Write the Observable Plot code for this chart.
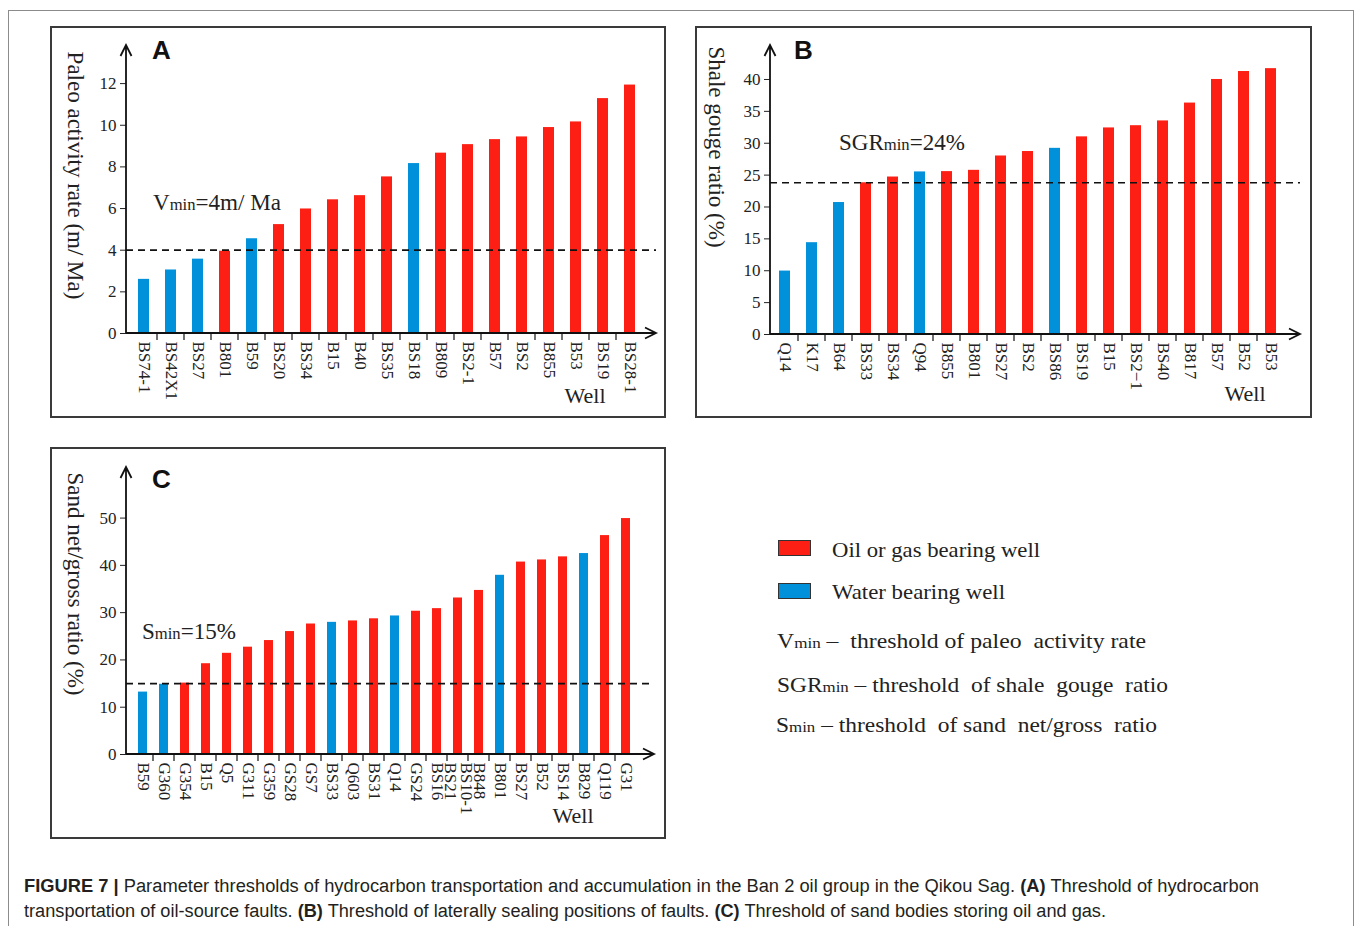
<!DOCTYPE html>
<html><head><meta charset="utf-8">
<script src="https://cdn.jsdelivr.net/npm/d3@7"></script>
<script src="https://cdn.jsdelivr.net/npm/@observablehq/plot@0.6"></script>
<style>
html,body{margin:0;padding:0;background:#fff;}
body{width:1356px;height:926px;position:relative;overflow:hidden;font-family:"Liberation Serif","Times New Roman",serif;color:#222;}
#outer{position:absolute;left:8px;top:10px;width:1346px;height:940px;border:1px solid #8c8c8c;box-sizing:border-box;}
.panel{position:absolute;border:2px solid #3a3a3a;box-sizing:border-box;background:#fff;}
.panel svg{position:absolute;left:0;top:0;}
.letter{position:absolute;font-family:"Liberation Sans",Arial,sans-serif;font-weight:bold;font-size:26px;line-height:26px;color:#111;}
.ann{position:absolute;font-size:21px;line-height:21px;white-space:pre;color:#222;}
.sub{font-size:0.72em;}
.lg{position:absolute;font-size:21px;line-height:21px;white-space:pre;color:#222;transform-origin:0 50%;}
.box{position:absolute;width:33px;height:16px;border:1.5px solid #333;box-sizing:border-box;}
.cap{position:absolute;left:24px;font-family:"Liberation Sans Narrow","Arial Narrow","Liberation Sans",sans-serif;font-size:18px;line-height:20px;white-space:pre;color:#231f20;transform-origin:0 50%;}
.cap b{font-weight:bold;}
</style>
</head><body>
<div id="outer"></div>
<div class="panel" id="pA" style="left:50px;top:26px;width:616px;height:392px;"></div>
<div class="panel" id="pB" style="left:695px;top:26px;width:617px;height:392px;"></div>
<div class="panel" id="pC" style="left:50px;top:447px;width:616px;height:392px;"></div>
<div class="letter" style="left:152px;top:37px;">A</div>
<div class="letter" style="left:794px;top:37px;">B</div>
<div class="letter" style="left:152px;top:466px;">C</div>
<div class="ann" id="annA" style="left:153px;top:192px;"></div>
<div class="ann" id="annB" style="left:839px;top:132px;"></div>
<div class="ann" id="annC" style="left:142px;top:621px;"></div>

<div class="box" id="boxOil" style="left:778px;top:540px;"></div>
<div class="box" id="boxWater" style="left:778px;top:583px;"></div>
<div class="lg" id="lg1" style="left:832px;top:540px;">Oil or gas bearing well</div>
<div class="lg" id="lg2" style="left:832px;top:582px;">Water bearing well</div>
<div class="lg" id="lg3" style="left:777px;top:631px;"></div>
<div class="lg" id="lg4" style="left:777px;top:675px;"></div>
<div class="lg" id="lg5" style="left:776px;top:715px;"></div>

<div class="cap" id="cap1" style="top:876px;"><b>FIGURE 7 |</b> Parameter thresholds of hydrocarbon transportation and accumulation in the Ban 2 oil group in the Qikou Sag. <b>(A)</b> Threshold of hydrocarbon</div>
<div class="cap" id="cap2" style="top:901px;">transportation of oil-source faults. <b>(B)</b> Threshold of laterally sealing positions of faults. <b>(C)</b> Threshold of sand bodies storing oil and gas.</div>

<script>
// ---------- DATA ----------
const colorOil = "#fd1f14";
const colorWater = "#0091da";

// Panel A: paleo activity rate (m/Ma)
const wellsA = ["BS74-1","BS42X1","BS27","B801","B59","BS20","BS34","B15","B40","BS35","BS18","B809","BS2-1","B57","BS2","B855","B53","BS19","BS28-1"];
const valuesA = [2.6,3.05,3.57,3.95,4.55,5.23,5.98,6.42,6.62,7.52,8.16,8.66,9.07,9.31,9.44,9.89,10.16,11.28,11.93];
const waterA = ["BS74-1","BS42X1","BS27","B59","BS18"];
const thresholdA = 4;
const ticksA = [0,2,4,6,8,10,12];

// Panel B: shale gouge ratio (%)
const wellsB = ["Q14","K17","B64","BS33","BS34","Q94","B855","B801","BS27","BS2","BS86","BS19","B15","BS2\u22121","BS40","B817","B57","B52","B53"];
const valuesB = [9.95,14.4,20.7,23.8,24.7,25.5,25.55,25.75,28.0,28.7,29.2,31.0,32.4,32.75,33.5,36.3,40.0,41.25,41.7];
const waterB = ["Q14","K17","B64","Q94","BS86"];
const thresholdB = 23.8;
const ticksB = [0,5,10,15,20,25,30,35,40];

// Panel C: sand net/gross ratio (%)
const wellsC = ["B59","G360","G354","B15","Q5","G311","G359","GS28","GS7","BS33","Q603","BS31","Q14","GS24","BS16","BS21/BS10-1","B848","B801","BS27","B52","BS14","B829","Q119","G31"];
const valuesC = [13.2,14.85,15.1,19.2,21.4,22.7,24.1,26.0,27.6,27.95,28.25,28.7,29.3,30.3,30.85,33.1,34.7,37.9,40.7,41.15,41.8,42.5,46.3,49.9];
const waterC = ["B59","G360","BS33","Q14","B801","B829"];
const thresholdC = 15;
const ticksC = [0,10,20,30,40,50];

// ---------- HELPERS ----------
function arrows(index, scales, values, dims) {
  const l = dims.marginLeft, t = dims.marginTop, w = dims.width - dims.marginRight, b = dims.height - dims.marginBottom;
  const g = d3.create("svg:g").attr("fill","none").attr("stroke","#111").attr("stroke-width",1.8);
  g.append("path").attr("d",`M${l},${b}V${t}M${l-5.5},${t+11}L${l},${t}L${l+5.5},${t+11}`);
  g.append("path").attr("d",`M${l},${b}H${w}M${w-11},${b-5.5}L${w},${b}L${w-11},${b+5.5}`);
  return g.node();
}
function separators(index, scales, values, dims) {
  const x = scales.x;
  const dom = x.domain();
  const r = x.range();
  const step = x.step ? x.step() : (r[1]-r[0])/dom.length;
  const bw = x.bandwidth ? x.bandwidth() : step*0.4;
  const y0 = dims.height - dims.marginBottom;
  const g = d3.create("svg:g").attr("stroke","#222").attr("stroke-width",1.3);
  dom.slice(1).forEach(d => {
    const xx = x(d) - (step - bw)/2;
    g.append("line").attr("x1",xx).attr("x2",xx).attr("y1",y0).attr("y2",y0+7);
  });
  return g.node();
}

function panel(id, cfg) {
  const data = cfg.wells.map((w,i)=>({well:w, value:cfg.values[i], kind: cfg.water.includes(w) ? "Water" : "Oil"}));
  const chart = Plot.plot({
    width: cfg.width, height: 388,
    marginLeft: cfg.ml, marginRight: cfg.mr, marginTop: cfg.mt, marginBottom: cfg.mb,
    style: {fontFamily: "'Liberation Serif', serif", fontSize: "17px", color: "#222", background: "transparent", overflow: "visible"},
    x: {type: "band", domain: cfg.wells, range: cfg.xRange, paddingInner: cfg.pad, paddingOuter: cfg.pad/2, label: null},
    y: {domain: [0, cfg.yMax], label: null},
    color: {domain: ["Oil","Water"], range: [colorOil, colorWater]},
    marks: [
      Plot.barY(data, {x: "well", y: "value", fill: "kind"}),
      Plot.ruleY([cfg.threshold], {stroke: "#111", strokeWidth: 1.7, strokeDasharray: "7,5"}),
      Plot.axisY({ticks: cfg.ticks, tickSize: 6, tickPadding: 4, fontSize: 17, label: null}),
      Plot.axisX({tickRotate: 90, tickSize: 0, tickPadding: 8, fontSize: 17, lineHeight: 0.9, label: null,
                  tickFormat: d => d === "BS21/BS10-1" ? "BS10-1\nBS21" : d}),
      separators,
      arrows,
      Plot.text([cfg.title], {text: d => d, frameAnchor: "left", rotate: 90, dx: cfg.tdx, dy: cfg.tdy, fontSize: 23, textAnchor: "middle"}),
      Plot.text(["Well"], {text: d => d, frameAnchor: "bottom-right", dx: cfg.wdx, dy: cfg.wdy, fontSize: 22, textAnchor: "end"})
    ]
  });
  document.getElementById(id).appendChild(chart);
}

panel("pA", {wells: wellsA, values: valuesA, water: waterA, threshold: thresholdA, ticks: ticksA,
  width: 612, ml: 74, mr: 8, mt: 17, mb: 83, yMax: 13.83, xRange: [78, 591.6], pad: 0.6,
  title: "Paleo activity rate (m/ Ma)", tdx: -51, tdy: -14, wdx: -51, wdy: 69});
panel("pB", {wells: wellsB, values: valuesB, water: waterB, threshold: thresholdB, ticks: ticksB,
  width: 613, ml: 73, mr: 10, mt: 17, mb: 82, yMax: 45.33, xRange: [71.4, 589.7], pad: 0.6,
  title: "Shale gouge ratio (%)", tdx: -54, tdy: -43, wdx: -35, wdy: 66});
panel("pC", {wells: wellsC, values: valuesC, water: waterC, threshold: thresholdC, ticks: ticksC,
  width: 612, ml: 74, mr: 10, mt: 18, mb: 83, yMax: 60.7, xRange: [75.5, 589.1], pad: 0.56,
  title: "Sand net/gross ratio (%)", tdx: -51, tdy: -27, wdx: -61, wdy: 68});

// ---------- ANNOTATIONS / LEGEND ----------
const sub = s => `<span class="sub">${s}</span>`;
document.getElementById("annA").innerHTML = `V${sub("min")}=${thresholdA}m/ Ma`;
document.getElementById("annB").innerHTML = `SGR${sub("min")}=24%`;
document.getElementById("annC").innerHTML = `S${sub("min")}=${thresholdC}%`;
document.getElementById("boxOil").style.background = colorOil;
document.getElementById("boxWater").style.background = colorWater;
document.getElementById("lg3").innerHTML = `V${sub("min")} \u2013  threshold of paleo  activity rate`;
document.getElementById("lg4").innerHTML = `SGR${sub("min")} \u2013 threshold  of shale  gouge  ratio`;
document.getElementById("lg5").innerHTML = `S${sub("min")} \u2013 threshold  of sand  net/gross  ratio`;

function fitFont(id, target) {
  const el = document.getElementById(id);
  const w = el.getBoundingClientRect().width;
  const fs = parseFloat(getComputedStyle(el).fontSize);
  el.style.fontSize = (fs * target / w) + "px";
}
function fitScale(id, target) {
  const el = document.getElementById(id);
  el.style.display = "inline-block";
  const w = el.getBoundingClientRect().width;
  el.style.transform = `scaleX(${target / w})`;
}
fitFont("annA", 128); fitFont("annB", 126); fitFont("annC", 94);
fitScale("lg1", 208); fitScale("lg2", 173);
fitScale("lg3", 369); fitScale("lg4", 391); fitScale("lg5", 381);
fitScale("cap1", 1235); fitScale("cap2", 1082);
</script>
</body></html>
